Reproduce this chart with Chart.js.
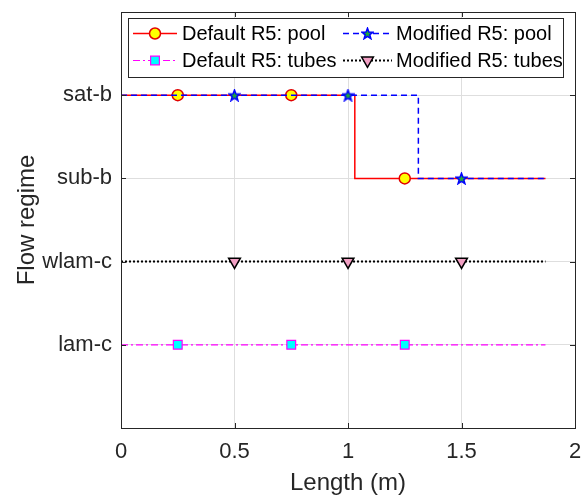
<!DOCTYPE html>
<html>
<head>
<meta charset="utf-8">
<script src="https://cdn.jsdelivr.net/npm/chart.js@4.4.0/dist/chart.umd.min.js"></script>
<style>
  html, body { margin: 0; padding: 0; background: #fff; }
  #wrap { width: 588px; height: 495px; position: relative; }
</style>
</head>
<body>
<div id="wrap"><canvas id="grafico"></canvas></div>
<script>
"use strict";
/* flow regime vs length - step lines */

var regimes = ["lam-c", "wlam-c", "sub-b", "sat-b"];
var xTicks = [0, 0.5, 1, 1.5, 2];

var defPoolX = [0, 0.25, 0.75, 1.03, 1.03, 1.25, 1.87];
var defPoolY = ["sat-b", "sat-b", "sat-b", "sat-b", "sub-b", "sub-b", "sub-b"];
var defPoolMarks = [0.25, 0.75, 1.25];

var modPoolX = [0, 0.5, 1.0, 1.31, 1.31, 1.5, 1.87];
var modPoolY = ["sat-b", "sat-b", "sat-b", "sat-b", "sub-b", "sub-b", "sub-b"];
var modPoolMarks = [0.5, 1.0, 1.5];

var defTubesX = [0, 0.25, 0.75, 1.25, 1.87];
var defTubesY = ["lam-c", "lam-c", "lam-c", "lam-c", "lam-c"];
var defTubesMarks = [0.25, 0.75, 1.25];

var modTubesX = [0, 0.5, 1.0, 1.5, 1.87];
var modTubesY = ["wlam-c", "wlam-c", "wlam-c", "wlam-c", "wlam-c"];
var modTubesMarks = [0.5, 1.0, 1.5];

var nombres = ["Default R5: pool", "Modified R5: pool", "Default R5: tubes", "Modified R5: tubes"];

function puntos(xs, ys) {
  return xs.map(function (x, i) { return { x: x, y: regimes.indexOf(ys[i]) + 1 }; });
}
function radios(xs, marks, r) {
  return xs.map(function (x) { return marks.indexOf(x) >= 0 ? r : 0; });
}

function hacerEstrella() {
  var c = document.createElement("canvas");
  c.width = 13; c.height = 13;
  var g = c.getContext("2d");
  g.beginPath();
  for (var i = 0; i < 10; i++) {
    var r = i % 2 === 0 ? 5.8 : 2.4;
    var a = -Math.PI / 2 + i * Math.PI / 5;
    var px = 6.5 + r * Math.cos(a), py = 7 + r * Math.sin(a);
    if (i === 0) { g.moveTo(px, py); } else { g.lineTo(px, py); }
  }
  g.closePath();
  g.fillStyle = "#1fa83a";
  g.fill();
  g.lineWidth = 1.5;
  g.strokeStyle = "#0000ff";
  g.stroke();
  return c;
}
var estrella = hacerEstrella();

var fuente = "'Liberation Sans', Arial, sans-serif";
var oscuro = "#262626";

var datasets = [
  {
    label: nombres[0],
    data: puntos(defPoolX, defPoolY),
    borderColor: "#ff0000", borderWidth: 1.5,
    pointStyle: "circle", pointRadius: radios(defPoolX, defPoolMarks, 5.5),
    pointBackgroundColor: "#ffff00", pointBorderColor: "#e00000", pointBorderWidth: 1.5,
    order: 2
  },
  {
    label: nombres[1],
    data: puntos(modPoolX, modPoolY),
    borderColor: "#0000ff", borderWidth: 1.5, borderDash: [6, 4],
    pointStyle: estrella, pointRadius: radios(modPoolX, modPoolMarks, 6),
    order: 1
  },
  {
    label: nombres[2],
    data: puntos(defTubesX, defTubesY),
    borderColor: "#ff00ff", borderWidth: 1.2, borderDash: [7, 3, 2, 3],
    pointStyle: "rect", pointRadius: radios(defTubesX, defTubesMarks, 6.2),
    pointBackgroundColor: "#00ffff", pointBorderColor: "#ff00ff", pointBorderWidth: 1.2,
    order: 4
  },
  {
    label: nombres[3],
    data: puntos(modTubesX, modTubesY),
    borderColor: "#000000", borderWidth: 2, borderDash: [2, 2],
    pointStyle: "triangle", pointRotation: 180, pointRadius: radios(modTubesX, modTubesMarks, 6.8),
    pointBackgroundColor: "#f2a0c4", pointBorderColor: "#000000", pointBorderWidth: 1.5,
    order: 3
  }
];

var marcoPlugin = {
  id: "marco",
  afterDraw: function (chart) {
    var ctx = chart.ctx;
    var a = chart.chartArea;
    var sx = chart.scales.x, sy = chart.scales.y;
    ctx.save();
    ctx.strokeStyle = oscuro;
    ctx.lineWidth = 1;
    ctx.strokeRect(Math.round(a.left) + 0.5, Math.round(a.top) + 0.5,
      Math.round(a.right - a.left), Math.round(a.bottom - a.top));
    // marcas interiores
    ctx.beginPath();
    xTicks.slice(1, -1).forEach(function (v) {
      var px = Math.round(sx.getPixelForValue(v)) + 0.5;
      ctx.moveTo(px, a.bottom); ctx.lineTo(px, a.bottom - 5);
      ctx.moveTo(px, a.top); ctx.lineTo(px, a.top + 5);
    });
    regimes.forEach(function (r, i) {
      var py = Math.round(sy.getPixelForValue(i + 1)) + 0.5;
      ctx.moveTo(a.left, py); ctx.lineTo(a.left + 5, py);
      ctx.moveTo(a.right, py); ctx.lineTo(a.right - 5, py);
    });
    ctx.stroke();

    // leyenda
    var box = { x: 128.5, y: 18.5, w: 435, h: 59 };
    ctx.fillStyle = "#ffffff";
    ctx.fillRect(box.x, box.y, box.w, box.h);
    ctx.strokeStyle = oscuro;
    ctx.strokeRect(box.x, box.y, box.w, box.h);
    var celdas = [
      { ds: 0, x0: 133, x1: 177, tx: 182, y: 33 },
      { ds: 1, x0: 343, x1: 392, tx: 396, y: 33 },
      { ds: 2, x0: 133, x1: 177, tx: 182, y: 60 },
      { ds: 3, x0: 343, x1: 392, tx: 396, y: 60 }
    ];
    celdas.forEach(function (c) {
      var d = chart.data.datasets[c.ds];
      ctx.save();
      ctx.strokeStyle = d.borderColor;
      ctx.lineWidth = d.borderWidth;
      ctx.setLineDash(d.borderDash || []);
      ctx.beginPath();
      ctx.moveTo(c.x0, c.y + 0.5); ctx.lineTo(c.x1, c.y + 0.5);
      ctx.stroke();
      ctx.setLineDash([]);
      ctx.fillStyle = d.pointBackgroundColor || "#fff";
      ctx.strokeStyle = d.pointBorderColor || d.borderColor;
      ctx.lineWidth = d.pointBorderWidth || 1;
      var r = Math.max.apply(null, d.pointRadius);
      Chart.helpers.drawPoint(ctx, {
        pointStyle: d.pointStyle, radius: r, rotation: d.pointRotation || 0,
        borderWidth: d.pointBorderWidth || 1
      }, (c.x0 + c.x1) / 2, c.y + 0.5);
      ctx.restore();
      ctx.fillStyle = "#000000";
      ctx.font = "20px " + fuente;
      ctx.textBaseline = "middle";
      ctx.textAlign = "left";
      ctx.fillText(d.label, c.tx, c.y + 1);
    });
    ctx.restore();
  }
};

new Chart(document.getElementById("grafico"), {
  type: "line",
  data: { datasets: datasets },
  options: {
    responsive: true,
    maintainAspectRatio: false,
    animation: false,
    layout: { padding: { left: 0, top: 12, right: 13, bottom: 0 } },
    plugins: { legend: { display: false }, tooltip: { enabled: false } },
    elements: { line: { tension: 0, fill: false } },
    scales: {
      x: {
        type: "linear", min: 0, max: 2,
        afterBuildTicks: function (s) { s.ticks = xTicks.map(function (v) { return { value: v }; }); },
        afterFit: function (s) { s.height = 67; s.paddingLeft = 0; s.paddingRight = 0; },
        ticks: {
          color: oscuro, font: { family: fuente, size: 22 }, padding: 11, maxRotation: 0,
          callback: function (v) { return String(v); }
        },
        grid: { color: "#dedede", drawTicks: false },
        border: { display: false },
        title: { display: true, text: "Length (m)", color: oscuro, font: { family: fuente, size: 24, lineHeight: 1 }, padding: { top: 0, bottom: 0 } }
      },
      y: {
        type: "linear", min: 0, max: 5,
        afterBuildTicks: function (s) { s.ticks = [0, 1, 2, 3, 4, 5].map(function (v) { return { value: v }; }); },
        afterFit: function (s) { s.width = 121; s.paddingTop = 0; s.paddingBottom = 0; },
        ticks: {
          color: oscuro, font: { family: fuente, size: 22 }, padding: 9,
          callback: function (v) { return regimes[v - 1] || ""; }
        },
        grid: { color: "#dedede", drawTicks: false },
        border: { display: false },
        title: { display: true, text: "Flow regime", color: oscuro, font: { family: fuente, size: 24 }, padding: { top: 13, bottom: 0 } }
      }
    }
  },
  plugins: [marcoPlugin]
});
</script>
</body>
</html>
